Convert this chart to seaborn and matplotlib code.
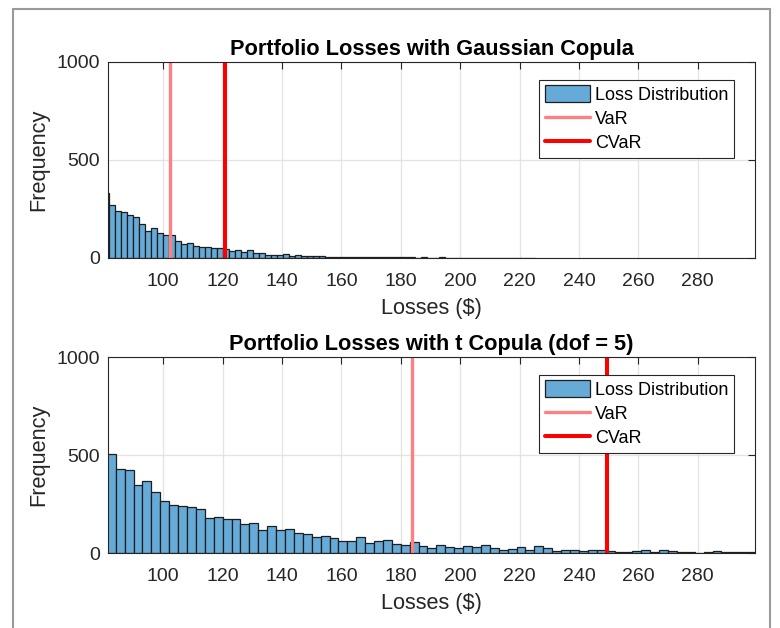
import numpy as np
import pandas as pd
import seaborn as sns
import matplotlib
matplotlib.use("Agg")
import matplotlib.pyplot as plt
from matplotlib.patches import Rectangle

# ---------------- data ----------------
gauss_bin_start = 79.81
gauss_bin_width = 2.02
gauss_counts = [330, 272, 238, 235, 218, 209, 175, 136, 153, 128, 119,
                119, 85, 73, 77, 63, 56, 56, 51, 51, 45,
                37, 39, 29, 43, 27, 26, 15, 15, 15, 20,
                12, 13, 10, 8, 12, 12, 7, 7, 5, 7,
                6, 5, 6, 4, 5, 4, 3, 5, 3, 4,
                3, 2, 3, 2, 2, 3, 1, 2, 2, 1,
                2, 1, 1, 1, 2, 1, 0, 1, 1, 0, 1]
gauss_var = 102.3
gauss_cvar = 120.8

t_bin_start = 81.0
t_bin_width = 3.0
t_counts = [507, 429, 424, 347, 367, 311, 267, 247, 241, 235,
            223, 179, 184, 175, 175, 148, 155, 119, 138, 119,
            122, 104, 97, 80, 88, 78, 63, 63, 80, 51,
            61, 65, 48, 43, 58, 37, 26, 41, 32, 27,
            36, 32, 43, 26, 17, 22, 32, 17, 34, 24,
            12, 17, 14, 10, 15, 17, 10, 7, 7, 8,
            14, 7, 15, 10, 5, 3, 2, 7, 10, 3,
            3, 7, 3]
t_var = 183.7
t_cvar = 249.3

titles = ["Portfolio Losses with Gaussian Copula",
          "Portfolio Losses with t Copula (dof = 5)"]
x_ticks = [100, 120, 140, 160, 180, 200, 220, 240, 260, 280]
y_ticks = [0, 500, 1000]
x_limits = (81.4, 299.3)
y_limits = (0, 1000)

# ---------------- style ----------------
sns.set_theme(style="white")
plt.rcParams["font.family"] = ["Liberation Sans", "DejaVu Sans"]

BAR_COLOR = "#66AAD7"
EDGE_COLOR = "#1e1e1e"
VAR_COLOR = "#FF8080"
CVAR_COLOR = "#FF0000"
AX_COLOR = "#262626"
GRID_COLOR = "#E3E3E3"

fig = plt.figure(figsize=(7.8, 6.28), dpi=100)
W, H = 780.0, 628.0
ax_top = fig.add_axes([108 / W, (H - 258) / H, 647 / W, 196 / H])
ax_bot = fig.add_axes([108 / W, (H - 553) / H, 647 / W, 196 / H])

panels = [
    (ax_top, gauss_bin_start, gauss_bin_width, gauss_counts, gauss_var, gauss_cvar, titles[0]),
    (ax_bot, t_bin_start, t_bin_width, t_counts, t_var, t_cvar, titles[1]),
]

for ax, start, width, counts, var, cvar, title in panels:
    counts = np.asarray(counts, dtype=float)
    nb = len(counts)
    lo = start
    hi = start + width * nb
    centers = lo + width * (np.arange(nb) + 0.5)
    df = pd.DataFrame({"loss": centers, "count": counts})

    # grid drawn beneath bars
    for xt in x_ticks:
        ax.axvline(xt, color=GRID_COLOR, lw=0.9, zorder=0)
    for yt in y_ticks:
        ax.axhline(yt, color=GRID_COLOR, lw=0.9, zorder=0)

    sns.histplot(data=df, x="loss", weights="count", bins=nb, binrange=(lo, hi),
                 ax=ax, color=BAR_COLOR, alpha=1.0, edgecolor=EDGE_COLOR,
                 linewidth=0.9, label="Loss Distribution", zorder=1)
    ax.axvline(var, color=VAR_COLOR, lw=2.4, label="VaR", zorder=2)
    ax.axvline(cvar, color=CVAR_COLOR, lw=2.9, label="CVaR", zorder=2)

    ax.set_xlim(*x_limits)
    ax.set_ylim(*y_limits)
    ax.set_xticks(x_ticks)
    ax.set_yticks(y_ticks)
    ax.set_xticklabels([str(v) for v in x_ticks])
    ax.set_yticklabels([str(v) for v in y_ticks])
    ax.tick_params(direction="in", length=5, width=0.8, top=True, right=True,
                   labelsize=14, colors=AX_COLOR)
    ax.tick_params(axis="x", pad=10.5)
    ax.tick_params(axis="y", pad=6)
    for sp in ax.spines.values():
        sp.set_visible(True)
        sp.set_color(AX_COLOR)
        sp.set_linewidth(0.8)
        sp.set_zorder(3)

    ax.set_title(title, fontsize=15.7, fontweight="bold", color="black", pad=5)
    ax.set_xlabel("Losses ($)", fontsize=15.7, color=AX_COLOR, labelpad=6)
    ax.set_ylabel("Frequency", fontsize=15.7, color=AX_COLOR, labelpad=5)

    handles, labels = ax.get_legend_handles_labels()
    order = [labels.index(l) for l in ["Loss Distribution", "VaR", "CVaR"]]
    leg = ax.legend([handles[i] for i in order], [labels[i] for i in order],
                    loc="upper right", bbox_to_anchor=(0.9675, 0.908),
                    borderaxespad=0, fontsize=13, frameon=True, fancybox=False,
                    edgecolor=AX_COLOR, framealpha=1, handlelength=2.5,
                    handleheight=1.0, handletextpad=0.3, labelspacing=0.33,
                    borderpad=0.3)
    leg.get_frame().set_linewidth(0.8)
    for txt in leg.get_texts():
        txt.set_color("black")

# outer window frame as in the screenshot
frame = Rectangle((13 / W, -0.05), (770 - 13) / W, (H - 9) / H + 0.05,
                  transform=fig.transFigure, fill=False, edgecolor="#9a9a9a",
                  lw=1.5, clip_on=False)
fig.add_artist(frame)

fig.savefig("out.png", dpi=100)
